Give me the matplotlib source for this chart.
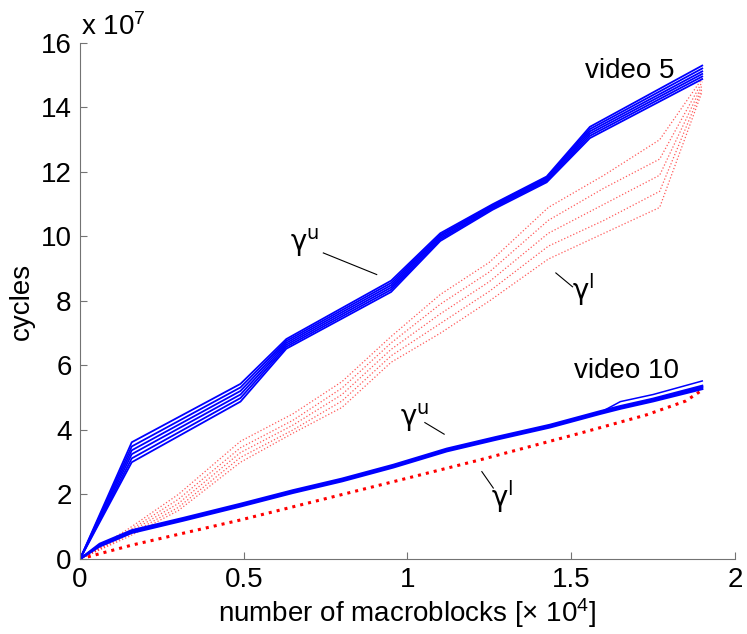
import matplotlib
matplotlib.use("Agg")
import matplotlib.pyplot as plt

plt.rcParams.update({
    "font.family": ["Liberation Sans", "DejaVu Sans"],
    "font.size": 20,
    "mathtext.fontset": "custom",
    "mathtext.rm": "Liberation Sans",
})

# macroblocks (x 1e4) and cycles (x 1e7)
x_v5_upper = [0, 0.158, 0.49, 0.63, 0.95, 1.10, 1.26, 1.425, 1.557, 1.90]
v5_upper = [
    [0, 3.62, 5.43, 6.82, 8.63, 10.10, 11.00, 11.86, 13.40, 15.30],
    [0, 3.49, 5.32, 6.76, 8.56, 10.05, 10.97, 11.83, 13.33, 15.21],
    [0, 3.37, 5.21, 6.70, 8.49, 10.01, 10.94, 11.80, 13.26, 15.12],
    [0, 3.25, 5.10, 6.64, 8.42, 9.96, 10.90, 11.76, 13.19, 15.04],
    [0, 3.12, 4.99, 6.58, 8.35, 9.91, 10.87, 11.72, 13.12, 14.96],
    [0, 3.00, 4.88, 6.52, 8.28, 9.86, 10.83, 11.68, 13.05, 14.88],
]

x_v5_lower = [0, 0.15, 0.30, 0.49, 0.65, 0.80, 0.95, 1.10, 1.25, 1.43, 1.60, 1.77, 1.90]
v5_lower = [
    [0, 0.95, 2.00, 3.65, 4.50, 5.50, 6.90, 8.20, 9.20, 10.90, 11.90, 13.00, 14.90],
    [0, 0.88, 1.85, 3.45, 4.30, 5.30, 6.70, 7.90, 8.90, 10.50, 11.50, 12.40, 14.80],
    [0, 0.82, 1.72, 3.30, 4.15, 5.10, 6.50, 7.60, 8.60, 10.10, 11.00, 11.90, 14.70],
    [0, 0.76, 1.60, 3.15, 4.00, 4.90, 6.30, 7.30, 8.30, 9.70, 10.50, 11.40, 14.60],
    [0, 0.70, 1.50, 3.00, 3.90, 4.70, 6.10, 7.00, 8.00, 9.30, 10.10, 10.90, 14.50],
]

x_v10_upper = [0, 0.06, 0.158, 0.315, 0.49, 0.65, 0.80, 0.957, 1.12, 1.27, 1.435, 1.588, 1.65, 1.75, 1.90]
v10_upper = [
    [0, 0.47, 0.89, 1.27, 1.71, 2.13, 2.49, 2.92, 3.42, 3.78, 4.16, 4.58, 4.74, 4.97, 5.37],
    [0, 0.43, 0.85, 1.23, 1.67, 2.09, 2.45, 2.88, 3.38, 3.74, 4.12, 4.54, 4.70, 4.93, 5.32],
    [0, 0.39, 0.81, 1.19, 1.63, 2.05, 2.41, 2.84, 3.34, 3.70, 4.08, 4.50, 4.66, 4.89, 5.27],
    [0, 0.43, 0.85, 1.23, 1.67, 2.09, 2.45, 2.88, 3.38, 3.74, 4.12, 4.54, 4.88, 5.10, 5.52],
]
v10_upper_widths = [1.6, 1.6, 1.6, 1.1]

x_v10_lower = [0, 0.158, 0.49, 0.95, 1.22, 1.527, 1.73, 1.85, 1.90]
v10_lower = [0, 0.43, 1.21, 2.38, 3.07, 3.90, 4.47, 4.90, 5.24]

x_ticks = [0, 0.5, 1, 1.5, 2]
x_tick_labels = ["0", "0.5", "1", "1.5", "2"]
y_ticks = [0, 2, 4, 6, 8, 10, 12, 14, 16]

fig = plt.figure(figsize=(7.47, 6.34), dpi=100)
ax = fig.add_axes([0.1071, 0.1183, 0.8768, 0.8139])

for y in v5_lower:
    ax.plot(x_v5_lower, y, ":", color="red", lw=0.9, alpha=0.65)
for y in v5_upper:
    ax.plot(x_v5_upper, y, "-", color="blue", lw=1.3)

ax.plot(x_v10_lower, v10_lower, ":", color="red", lw=2.2)
for y, w in zip(v10_upper, v10_upper_widths):
    ax.plot(x_v10_upper, y, "-", color="blue", lw=w)

# labels and pointer lines
ax.text(1.68, 15.14, "video 5", ha="center", va="center")
ax.text(1.67, 5.84, "video 10", ha="center", va="center")

gamma_font = ["DejaVu Sans"]
ax.text(0.687, 9.81, r"γ$^{\mathregular{u}}$", ha="center", va="center", family=gamma_font)
ax.plot([0.743, 0.906], [9.49, 8.82], color="black", lw=0.8)
ax.text(1.536, 8.35, r"γ$^{\mathregular{l}}$", ha="center", va="center", family=gamma_font)
ax.plot([1.453, 1.504], [8.87, 8.44], color="black", lw=0.8)

ax.text(1.023, 4.38, r"γ$^{\mathregular{u}}$", ha="center", va="center", family=gamma_font)
ax.plot([1.053, 1.112], [4.23, 3.87], color="black", lw=0.8)
ax.text(1.289, 1.93, r"γ$^{\mathregular{l}}$", ha="center", va="center", family=gamma_font)
ax.plot([1.227, 1.262], [2.71, 2.20], color="black", lw=0.8)

ax.set_xlim(0, 2)
ax.set_ylim(0, 16)
ax.set_xticks(x_ticks)
ax.set_xticklabels(x_tick_labels)
ax.set_yticks(y_ticks)
ax.tick_params(direction="in", length=5, color="0.45", pad=6)
for side in ["top", "right"]:
    ax.spines[side].set_visible(False)
for side in ["left", "bottom"]:
    ax.spines[side].set_color("0.45")

ax.set_xlabel(r"number of macroblocks [× $\mathregular{10^{4}}$]", labelpad=2)
ax.set_ylabel("cycles", labelpad=4)
fig.text(81 / 747, 1 - 35 / 634, r"x $\mathregular{10^{7}}$", ha="left", va="baseline")

fig.savefig("out.png", dpi=100)
